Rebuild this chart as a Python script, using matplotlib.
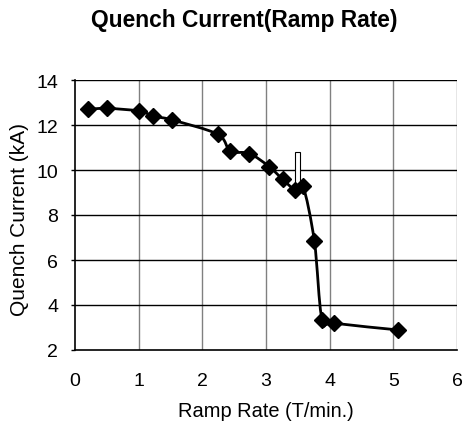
import matplotlib
matplotlib.use("Agg")
import matplotlib.pyplot as plt
from matplotlib.path import Path
from matplotlib.patches import PathPatch, Rectangle
import numpy as np

plt.rcParams['font.family'] = ['Liberation Sans', 'DejaVu Sans']

ramp_rate = [0.21, 0.51, 1.01, 1.23, 1.53, 2.24, 2.44, 2.74, 3.05, 3.26, 3.46, 3.58, 3.76, 3.88, 4.07, 5.08]
quench_current = [12.70, 12.74, 12.62, 12.40, 12.22, 11.59, 10.85, 10.73, 10.15, 9.59, 9.12, 9.30, 6.83, 3.35, 3.19, 2.89]

bar_x = [3.49]
bar_bottom = [9.30]
bar_top = [10.80]

x_ticks = [0, 1, 2, 3, 4, 5, 6]
y_ticks = [2, 4, 6, 8, 10, 12, 14]

fig = plt.figure(figsize=(4.63, 4.27), dpi=100)
ax = fig.add_axes([75/463, 1-351/427, 382/463, 270/427])
ax.set_xlim(0, 6)
ax.set_ylim(2, 14)

# grid
for xv in x_ticks[1:]:
    ax.axvline(xv, color='#808080', lw=1.0, zorder=1)
for yv in y_ticks[1:]:
    ax.axhline(yv, color='black', lw=1.0, zorder=1)

# smoothed line (Catmull-Rom style Bezier through data points)
xs = np.array(ramp_rate)
ys = np.array(quench_current)
verts = [(xs[0], ys[0])]
codes = [Path.MOVETO]
n = len(xs)
t = 1/6
for i in range(n - 1):
    p0 = np.array([xs[max(i-1, 0)], ys[max(i-1, 0)]])
    p1 = np.array([xs[i], ys[i]])
    p2 = np.array([xs[i+1], ys[i+1]])
    p3 = np.array([xs[min(i+2, n-1)], ys[min(i+2, n-1)]])
    c1 = p1 + (p2 - p0) * t
    c2 = p2 - (p3 - p1) * t
    verts += [tuple(c1), tuple(c2), tuple(p2)]
    codes += [Path.CURVE4] * 3
ax.add_patch(PathPatch(Path(verts, codes), facecolor='none', edgecolor='black', lw=2.0, zorder=3))

ax.plot(ramp_rate, quench_current, linestyle='none', marker='D', markersize=8,
        color='black', zorder=4)

for bx, bb, bt in zip(bar_x, bar_bottom, bar_top):
    ax.add_patch(Rectangle((bx - 0.042, bb), 0.084, bt - bb, facecolor='white',
                           edgecolor='black', lw=0.8, zorder=3.5))

ax.set_xticks(x_ticks)
ax.set_yticks(y_ticks)
ax.set_xticklabels([str(v) for v in x_ticks], fontsize=14)
ax.set_yticklabels([str(v) for v in y_ticks], fontsize=14)
ax.tick_params(axis='x', length=0, pad=16)
ax.tick_params(axis='y', direction='out', length=3, pad=9, width=1)

for s in ['top', 'right']:
    ax.spines[s].set_visible(False)
for s in ['left', 'bottom']:
    ax.spines[s].set_color('black')
    ax.spines[s].set_linewidth(1.2)

fig.text(265.5/463, 1 - 412/427, 'Ramp Rate (T/min.)', ha='center', va='center',
         fontsize=14.4)
fig.text(20/463, 1 - 220/427, 'Quench Current (kA)', ha='center', va='center',
         rotation=90, fontsize=15)

fig.text(244/463, 1 - 27/427, 'Quench Current(Ramp Rate)', ha='center', va='baseline',
         fontsize=16.4, fontweight='bold')

fig.savefig('out.png', dpi=100)
